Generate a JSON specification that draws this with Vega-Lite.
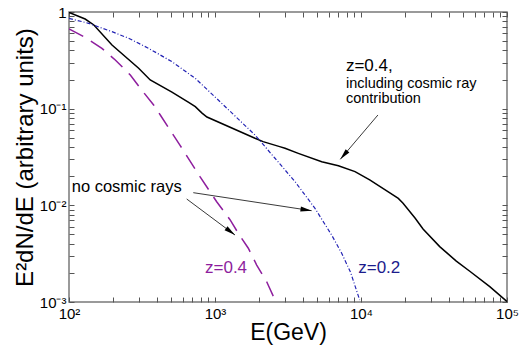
{
  "$schema": "https://vega.github.io/schema/vega-lite/v6.json",
  "width": 438,
  "height": 290,
  "autosize": {"type": "none"},
  "padding": {"left": 69, "top": 12, "right": 19, "bottom": 57},
  "background": "white",
  "config": {
    "font": "Liberation Sans",
    "view": {"stroke": "#7a7a7a", "strokeWidth": 1.5},
    "axis": {"grid": false, "domain": false, "labelColor": "#000", "titleColor": "#000", "titleFontWeight": "normal", "tickColor": "#555", "tickWidth": 1, "labelFlush": false, "labelOverlap": false, "labelBound": false}
  },
  "datasets": {
    "curves": [
      {"E": 100, "flux": 0.99, "series": "cr"},
      {"E": 129, "flux": 0.846, "series": "cr"},
      {"E": 148, "flux": 0.734, "series": "cr"},
      {"E": 197, "flux": 0.456, "series": "cr"},
      {"E": 300, "flux": 0.262, "series": "cr"},
      {"E": 360, "flux": 0.198, "series": "cr"},
      {"E": 507, "flux": 0.148, "series": "cr"},
      {"E": 660, "flux": 0.116, "series": "cr"},
      {"E": 733, "flux": 0.105, "series": "cr"},
      {"E": 815, "flux": 0.090, "series": "cr"},
      {"E": 881, "flux": 0.082, "series": "cr"},
      {"E": 1879, "flux": 0.0494, "series": "cr"},
      {"E": 2134, "flux": 0.0456, "series": "cr"},
      {"E": 2773, "flux": 0.0405, "series": "cr"},
      {"E": 3017, "flux": 0.0389, "series": "cr"},
      {"E": 3720, "flux": 0.0345, "series": "cr"},
      {"E": 5383, "flux": 0.0283, "series": "cr"},
      {"E": 7000, "flux": 0.0257, "series": "cr"},
      {"E": 9100, "flux": 0.0223, "series": "cr"},
      {"E": 11470, "flux": 0.0183, "series": "cr"},
      {"E": 15380, "flux": 0.0138, "series": "cr"},
      {"E": 18010, "flux": 0.0118, "series": "cr"},
      {"E": 19410, "flux": 0.0105, "series": "cr"},
      {"E": 23440, "flux": 0.0074, "series": "cr"},
      {"E": 26600, "flux": 0.0057, "series": "cr"},
      {"E": 34600, "flux": 0.00374, "series": "cr"},
      {"E": 39630, "flux": 0.00313, "series": "cr"},
      {"E": 44960, "flux": 0.00265, "series": "cr"},
      {"E": 55600, "flux": 0.00208, "series": "cr"},
      {"E": 76200, "flux": 0.00144, "series": "cr"},
      {"E": 100000, "flux": 0.00101, "series": "cr"},
      {"E": 100, "flux": 0.86, "series": "z02"},
      {"E": 136, "flux": 0.764, "series": "z02"},
      {"E": 197, "flux": 0.626, "series": "z02"},
      {"E": 256, "flux": 0.535, "series": "z02"},
      {"E": 351, "flux": 0.421, "series": "z02"},
      {"E": 507, "flux": 0.306, "series": "z02"},
      {"E": 733, "flux": 0.206, "series": "z02"},
      {"E": 1040, "flux": 0.125, "series": "z02"},
      {"E": 1879, "flux": 0.0534, "series": "z02"},
      {"E": 2576, "flux": 0.0307, "series": "z02"},
      {"E": 3532, "flux": 0.0176, "series": "z02"},
      {"E": 4840, "flux": 0.0093, "series": "z02"},
      {"E": 6295, "flux": 0.00493, "series": "z02"},
      {"E": 7376, "flux": 0.00319, "series": "z02"},
      {"E": 8470, "flux": 0.00204, "series": "z02"},
      {"E": 9790, "flux": 0.00105, "series": "z02"},
      {"E": 100, "flux": 0.667, "series": "z04"},
      {"E": 129, "flux": 0.547, "series": "z04"},
      {"E": 168, "flux": 0.421, "series": "z04"},
      {"E": 207.5, "flux": 0.319, "series": "z04"},
      {"E": 263, "flux": 0.223, "series": "z04"},
      {"E": 308, "flux": 0.1625, "series": "z04"},
      {"E": 380, "flux": 0.109, "series": "z04"},
      {"E": 422, "flux": 0.086, "series": "z04"},
      {"E": 575, "flux": 0.042, "series": "z04"},
      {"E": 789, "flux": 0.0198, "series": "z04"},
      {"E": 1027, "flux": 0.0109, "series": "z04"},
      {"E": 1267, "flux": 0.0071, "series": "z04"},
      {"E": 1444, "flux": 0.00514, "series": "z04"},
      {"E": 1691, "flux": 0.0036, "series": "z04"},
      {"E": 1930, "flux": 0.00241, "series": "z04"},
      {"E": 2260, "flux": 0.00162, "series": "z04"},
      {"E": 2576, "flux": 0.00105, "series": "z04"}
    ],
    "arrows": [
      {"id": "a1", "x1": 13060, "y1": 0.086, "x2": 7212, "y2": 0.0299},
      {"id": "a2", "x1": 710, "y1": 0.01352, "x2": 4592, "y2": 0.0088},
      {"id": "a3", "x1": 640, "y1": 0.01163, "x2": 1371, "y2": 0.00493}
    ]
  },
  "resolve": {"axis": {"x": "independent", "y": "independent"}},
  "layer": [
    {
      "data": {"name": "curves"},
      "transform": [{"filter": "datum.series == 'cr'"}],
      "mark": {"type": "line", "color": "#000", "strokeWidth": 1.5, "clip": true},
      "encoding": {
        "x": {"field": "E", "type": "quantitative",
          "scale": {"type": "log", "domain": [100, 100000], "nice": false},
          "axis": {"orient": "bottom", "title": "E(GeV)", "titleFontSize": 23, "titlePadding": 0,
            "values": [100,200,300,400,500,600,700,800,900,1000,2000,3000,4000,5000,6000,7000,8000,9000,10000,20000,30000,40000,50000,60000,70000,80000,90000,100000],
            "tickSize": -5,
            "labelPadding": 9, "labelFontSize": 15,
            "labelExpr": "datum.value == 100 ? '10²' : datum.value == 1000 ? '10³' : datum.value == 10000 ? '10⁴' : datum.value == 100000 ? '10⁵' : ''"}},
        "y": {"field": "flux", "type": "quantitative",
          "scale": {"type": "log", "domain": [0.001, 1], "nice": false},
          "axis": {"orient": "left", "title": "E²dN/dE (arbitrary units)", "titleFontSize": 24, "titlePadding": 2,
            "values": [0.001,0.002,0.003,0.004,0.005,0.006,0.007,0.008,0.009,0.01,0.02,0.03,0.04,0.05,0.06,0.07,0.08,0.09,0.1,0.2,0.3,0.4,0.5,0.6,0.7,0.8,0.9,1],
            "tickSize": -5,
            "labelPadding": 8, "labelFontSize": 15, "labelOffset": 0,
            "labelExpr": "datum.value == 1 ? '1' : datum.value == 0.1 ? '10⁻¹' : datum.value == 0.01 ? '10⁻²' : datum.value == 0.001 ? '10⁻³' : ''"}}
      }
    },
    {
      "data": {"name": "curves"},
      "transform": [{"filter": "datum.series == 'z02'"}],
      "mark": {"type": "line", "color": "#2323b4", "strokeWidth": 1.2, "strokeDash": [4, 2, 1, 2], "clip": true},
      "encoding": {
        "x": {"field": "E", "type": "quantitative", "scale": {"type": "log", "domain": [100, 100000], "nice": false},
          "axis": {"orient": "top", "title": null, "labels": false,
            "values": [100,200,300,400,500,600,700,800,900,1000,2000,3000,4000,5000,6000,7000,8000,9000,10000,20000,30000,40000,50000,60000,70000,80000,90000,100000],
            "tickSize": -5}},
        "y": {"field": "flux", "type": "quantitative", "scale": {"type": "log", "domain": [0.001, 1], "nice": false},
          "axis": {"orient": "right", "title": null, "labels": false,
            "values": [0.001,0.002,0.003,0.004,0.005,0.006,0.007,0.008,0.009,0.01,0.02,0.03,0.04,0.05,0.06,0.07,0.08,0.09,0.1,0.2,0.3,0.4,0.5,0.6,0.7,0.8,0.9,1],
            "tickSize": -5}}
      }
    },
    {
      "data": {"name": "curves"},
      "transform": [{"filter": "datum.series == 'z04'"}],
      "mark": {"type": "line", "color": "#8e1e9e", "strokeWidth": 1.5, "strokeDash": [16, 9], "clip": true},
      "encoding": {
        "x": {"field": "E", "type": "quantitative", "axis": null},
        "y": {"field": "flux", "type": "quantitative", "axis": null}
      }
    },
    {
      "data": {"name": "arrows"},
      "mark": {"type": "rule", "color": "#3a3a3a", "strokeWidth": 1},
      "encoding": {
        "x": {"field": "x1", "type": "quantitative", "axis": null},
        "y": {"field": "y1", "type": "quantitative", "axis": null},
        "x2": {"field": "x2"},
        "y2": {"field": "y2"}
      }
    },
    {
      "data": {"name": "arrows"},
      "transform": [{"filter": "datum.id == 'a1'"}],
      "mark": {"type": "point", "shape": "M0,0L0.22,1L-0.22,1Z", "size": 500, "filled": true, "color": "#000", "opacity": 1, "angle": 220.4},
      "encoding": {
        "x": {"field": "x2", "type": "quantitative", "axis": null},
        "y": {"field": "y2", "type": "quantitative", "axis": null}
      }
    },
    {
      "data": {"name": "arrows"},
      "transform": [{"filter": "datum.id == 'a2'"}],
      "mark": {"type": "point", "shape": "M0,0L0.22,1L-0.22,1Z", "size": 500, "filled": true, "color": "#000", "opacity": 1, "angle": 98.6},
      "encoding": {
        "x": {"field": "x2", "type": "quantitative", "axis": null},
        "y": {"field": "y2", "type": "quantitative", "axis": null}
      }
    },
    {
      "data": {"name": "arrows"},
      "transform": [{"filter": "datum.id == 'a3'"}],
      "mark": {"type": "point", "shape": "M0,0L0.22,1L-0.22,1Z", "size": 500, "filled": true, "color": "#000", "opacity": 1, "angle": 126.7},
      "encoding": {
        "x": {"field": "x2", "type": "quantitative", "axis": null},
        "y": {"field": "y2", "type": "quantitative", "axis": null}
      }
    },
    {
      "data": {"values": [{"E": 7885, "flux": 0.247, "label": "z=0.4,"}]},
      "mark": {"type": "text", "align": "left", "baseline": "alphabetic", "fontSize": 17, "color": "#000"},
      "encoding": {
        "x": {"field": "E", "type": "quantitative", "axis": null},
        "y": {"field": "flux", "type": "quantitative", "axis": null},
        "text": {"field": "label"}
      }
    },
    {
      "data": {"values": [{"E": 7885, "flux": 0.1648, "label": "including cosmic ray"}, {"E": 7885, "flux": 0.1137, "label": "contribution"}]},
      "mark": {"type": "text", "align": "left", "baseline": "alphabetic", "fontSize": 14.5, "color": "#000"},
      "encoding": {
        "x": {"field": "E", "type": "quantitative", "axis": null},
        "y": {"field": "flux", "type": "quantitative", "axis": null},
        "text": {"field": "label"}
      }
    },
    {
      "data": {"values": [{"E": 104.4, "flux": 0.01384, "label": "no cosmic rays"}]},
      "mark": {"type": "text", "align": "left", "baseline": "alphabetic", "fontSize": 16.5, "color": "#000"},
      "encoding": {
        "x": {"field": "E", "type": "quantitative", "axis": null},
        "y": {"field": "flux", "type": "quantitative", "axis": null},
        "text": {"field": "label"}
      }
    },
    {
      "data": {"values": [{"E": 854, "flux": 0.00201, "label": "z=0.4"}]},
      "mark": {"type": "text", "align": "left", "baseline": "alphabetic", "fontSize": 17, "color": "#8e1e9e"},
      "encoding": {
        "x": {"field": "E", "type": "quantitative", "axis": null},
        "y": {"field": "flux", "type": "quantitative", "axis": null},
        "text": {"field": "label"}
      }
    },
    {
      "data": {"values": [{"E": 9570, "flux": 0.00201, "label": "z=0.2"}]},
      "mark": {"type": "text", "align": "left", "baseline": "alphabetic", "fontSize": 17, "color": "#1c1c8c"},
      "encoding": {
        "x": {"field": "E", "type": "quantitative", "axis": null},
        "y": {"field": "flux", "type": "quantitative", "axis": null},
        "text": {"field": "label"}
      }
    }
  ]
}
